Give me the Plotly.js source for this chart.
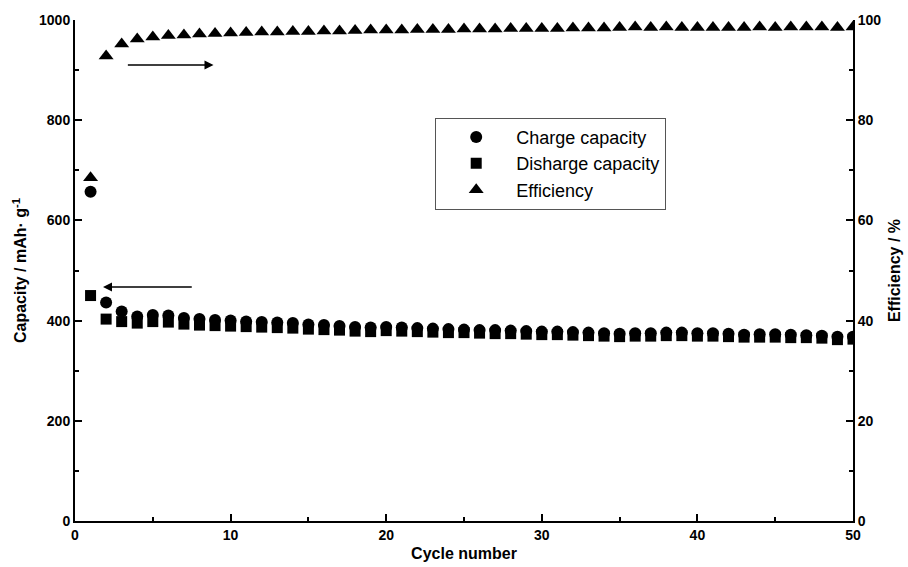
<!DOCTYPE html>
<html><head><meta charset="utf-8">
<script src="https://cdn.plot.ly/plotly-3.0.1.min.js"></script>
<style>body{margin:0;background:#fff}#chart{width:908px;height:567px}</style>
</head><body><div id="chart"></div>
<script>
const cycles = Array.from({length:50},(_,i)=>i+1);
const chargeCapacity = [657,436,418,408,411,410,405,403,401,400,398,397,396,395,392,391,389,387,386,387,386,385,384,383,382,381,381,380,379,378,378,377,376,375,374,375,375,376,376,375,375,374,372,373,373,372,371,370,368,368];
const dischargeCapacity = [450,403,398,395,398,397,393,391,390,389,388,387,386,385,383,382,381,379,378,380,379,378,377,376,376,375,374,374,373,372,372,371,370,369,368,369,369,370,370,369,369,368,367,367,367,366,366,365,362,363];
const efficiency = [68.5,92.8,95.2,96.2,96.6,96.9,97.0,97.2,97.3,97.4,97.5,97.6,97.6,97.7,97.7,97.8,97.8,97.9,98.0,98.0,98.0,98.1,98.1,98.1,98.2,98.2,98.2,98.3,98.3,98.3,98.3,98.4,98.4,98.4,98.5,98.6,98.5,98.6,98.5,98.5,98.5,98.5,98.5,98.6,98.5,98.6,98.6,98.6,98.5,98.6];

const F = "Liberation Sans, Arial, sans-serif";
const tickFont = {family:F, size:14, color:'#000', weight:'bold'};
const titleFont = {family:F, size:16, color:'#000', weight:'bold'};

const traces = [
 {x:cycles, y:chargeCapacity, name:'Charge capacity', mode:'markers', type:'scatter',
  marker:{symbol:'circle', size:12, color:'#000'}},
 {x:cycles, y:dischargeCapacity, name:'Disharge capacity', mode:'markers', type:'scatter',
  marker:{symbol:'square', size:11, color:'#000'}},
 {x:cycles, y:efficiency, name:'Efficiency', mode:'markers', type:'scatter', yaxis:'y2',
  marker:{symbol:'triangle-up', size:13, color:'#000'}}
];

const layout = {
 width:908, height:567,
 margin:{l:75, r:55, t:20, b:46},
 paper_bgcolor:'#fff', plot_bgcolor:'#fff',
 showlegend:true,
 legend:{x:0.463, y:0.805, xanchor:'left', yanchor:'top', bordercolor:'#555', borderwidth:1,
   font:{family:F, size:18, color:'#000'}, itemsizing:'trace', itemwidth:70, tracegroupgap:0},
 xaxis:{range:[0,50], dtick:10, showgrid:false, zeroline:false, showline:true, linecolor:'#000', linewidth:2,
   ticks:'inside', ticklen:7, tickwidth:2, tickcolor:'#000', tickfont:tickFont,
   minor:{dtick:5, ticks:'inside', ticklen:4, tickwidth:2, tickcolor:'#000'},
   title:{text:'Cycle number', font:titleFont, standoff:6}},
 yaxis:{range:[0,1000], dtick:200, showgrid:false, zeroline:false, showline:true, linecolor:'#000', linewidth:2,
   ticks:'inside', ticklen:7, tickwidth:2, tickcolor:'#000', tickfont:tickFont,
   minor:{dtick:100, ticks:'inside', ticklen:4, tickwidth:2, tickcolor:'#000'},
   title:{text:'Capacity / mAh· g<sup>-1</sup>', font:titleFont, standoff:8}},
 yaxis2:{range:[0,100], dtick:20, overlaying:'y', side:'right', showgrid:false, zeroline:false, showline:true, linecolor:'#000', linewidth:2,
   ticks:'inside', ticklen:7, tickwidth:2, tickcolor:'#000', tickfont:tickFont,
   minor:{dtick:10, ticks:'inside', ticklen:4, tickwidth:2, tickcolor:'#000'},
   title:{text:'Efficiency / %', font:titleFont, standoff:8}},
 annotations:[
  {x:8.9, y:910, ax:3.3, ay:910, xref:'x', yref:'y', axref:'x', ayref:'y', text:'', showarrow:true, arrowhead:2, arrowsize:1.2, arrowwidth:1.5, arrowcolor:'#000'},
  {x:1.8, y:467, ax:7.6, ay:467, xref:'x', yref:'y', axref:'x', ayref:'y', text:'', showarrow:true, arrowhead:2, arrowsize:1.2, arrowwidth:1.5, arrowcolor:'#000'}
 ]
};
Plotly.newPlot('chart', traces, layout, {displayModeBar:false, staticPlot:true});
</script></body></html>
